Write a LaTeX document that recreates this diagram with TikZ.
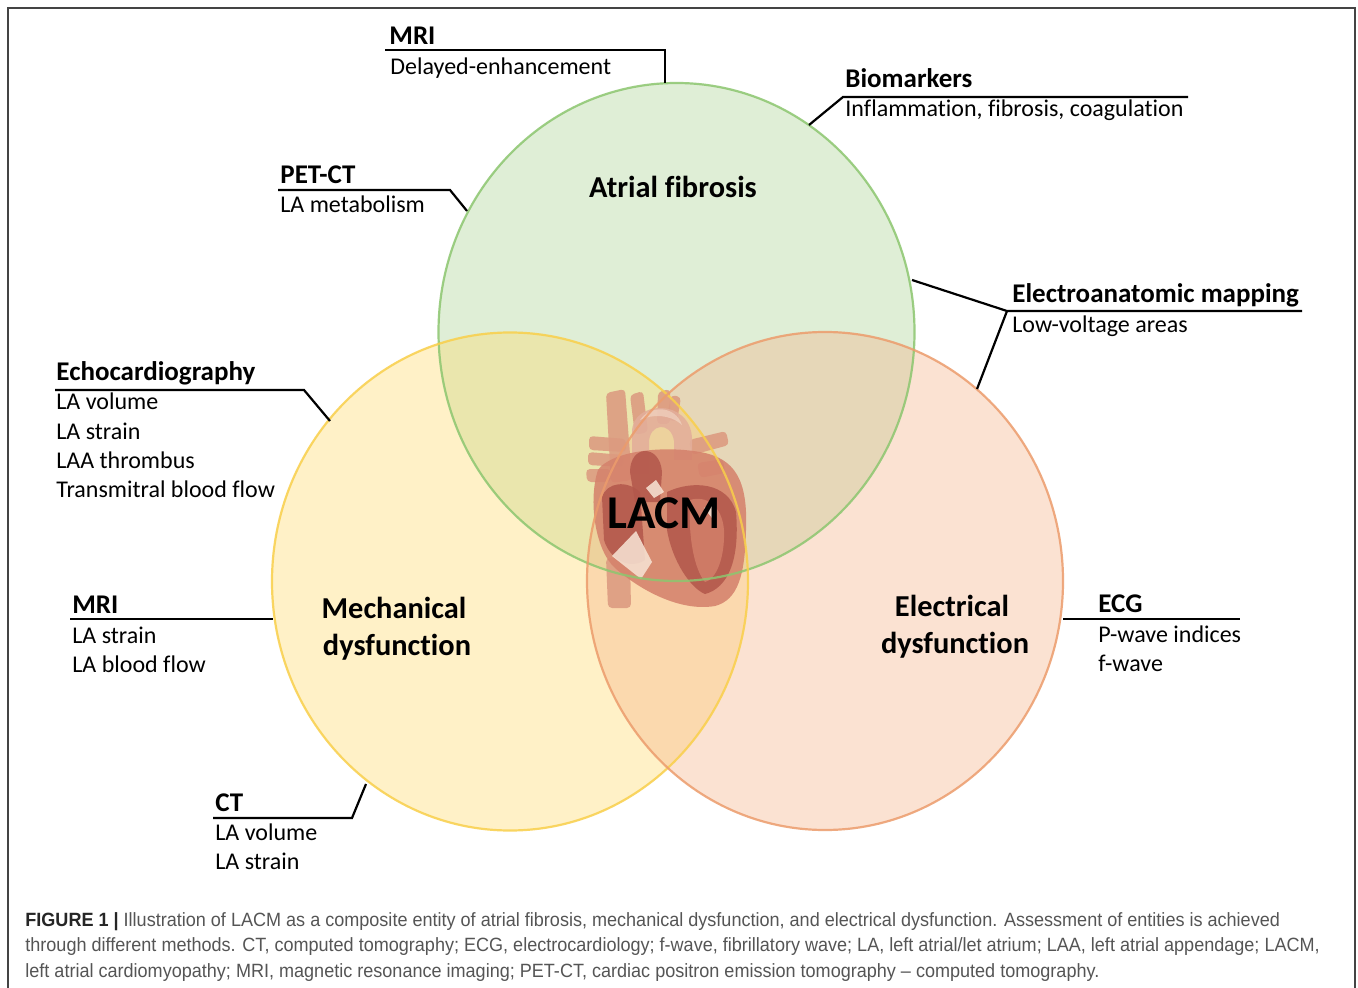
\documentclass[tikz,border=0pt]{standalone}
\usepackage{fontspec}
\setmainfont[Ligatures=NoCommon]{Carlito}
\newfontfamily\capfont[FakeStretch=0.94]{Liberation Sans}
\definecolor{gfill}{HTML}{A9D18E}
\definecolor{yfill}{HTML}{FFD966}
\definecolor{ofill}{HTML}{F4B183}
\definecolor{gedge}{HTML}{8CC66F}
\definecolor{yedge}{HTML}{F9CF4A}
\definecolor{oedge}{HTML}{EC9C6C}
\definecolor{hbody}{HTML}{D5826C}
\definecolor{hdark}{HTML}{B3584C}
\definecolor{hvessel}{HTML}{DC9A80}
\definecolor{hlight}{HTML}{F6E2D2}
\definecolor{capgray}{HTML}{555555}
\begin{document}
\begin{tikzpicture}[x=0.5pt,y=-0.5pt,
  hdr/.style={anchor=base west,inner sep=0,font=\fontsize{13.5}{16}\selectfont\bfseries},
  sub/.style={anchor=base west,inner sep=0,font=\fontsize{12}{14.5}\selectfont},
  big/.style={anchor=base,inner sep=0,font=\fontsize{15.2}{18}\selectfont\bfseries},
  lead/.style={line width=1.1pt,black},
  capline/.style={anchor=base west,inner sep=0,text=capgray,font=\capfont\fontsize{9.6}{12}\selectfont},
  vessel/.style={fill=hvessel,rounded corners=2pt},
]
\useasboundingbox (0,0) rectangle (1358,988);
\fill[white] (0,0) rectangle (1358,988);
% frame
\draw[capgray!80!black,line width=0.9pt] (8,988) -- (8,8) -- (1355,8) -- (1355,988);

% circle fills
\fill[gfill,fill opacity=0.36] (676.5,332) ellipse [x radius=119pt,y radius=124.5pt];
\fill[yfill,fill opacity=0.36] (510,581.5) ellipse [x radius=119pt,y radius=124.5pt];
\fill[ofill,fill opacity=0.36] (825,581) ellipse [x radius=119pt,y radius=124.5pt];

% heart
\begin{scope}[opacity=0.88]
\fill[vessel] (606,393) -- (625,389) -- (632,480) -- (611,483) -- cycle;
\fill[vessel] (630,395) -- (643,391) -- (648,432) -- (635,435) -- cycle;
\fill[vessel] (658,392) -- (670,389) -- (670,424) -- (657,424) -- cycle;
\fill[vessel] (671,395) -- (681,397) -- (677,422) -- (667,419) -- cycle;
\fill[vessel] (589,436) -- (626,439) -- (626,452) -- (589,450) -- cycle;
\fill[vessel] (588,452) -- (623,455) -- (623,467) -- (588,465) -- cycle;
\fill[vessel] (586,469) -- (611,469) -- (611,482) -- (587,482) -- cycle;
\fill[vessel] (689,440) -- (726,431) -- (729,445) -- (692,455) -- cycle;
\fill[vessel] (697,463) -- (723,459) -- (725,473) -- (700,478) -- cycle;
\fill[vessel] (606,558) -- (630,558) -- (631,608) -- (608,608) -- cycle;
\fill[hvessel!80!white] (632,474) -- (632,432) .. controls (632,400) and (690,398) .. (692,438) -- (692,460) -- (674,460) -- (674,441) .. controls (671,421) and (649,423) .. (649,443) -- (649,474) -- cycle;
\fill[hlight,opacity=0.5] (640,420) .. controls (650,405) and (675,405) .. (682,425) .. controls (670,414) and (652,414) .. (640,420) -- cycle;
\fill[hbody] (598,470) .. controls (610,452) and (660,445) .. (700,452) .. controls (735,458) and (748,480) .. (746,530) .. controls (745,575) and (738,600) .. (715,606) .. controls (680,612) and (640,590) .. (615,568) .. controls (595,550) and (588,500) .. (598,470) -- cycle;
\fill[hdark] (602,497) .. controls (607,482) and (627,480) .. (640,492) -- (645,560) .. controls (630,570) and (610,560) .. (604,540) -- cycle;
\fill[hdark] (630,472) .. controls (630,444) and (660,444) .. (662,472) -- (660,502) -- (635,502) -- cycle;
\fill[hdark] (667,492) .. controls (692,480) and (728,482) .. (736,512) .. controls (740,560) and (728,588) .. (705,594) .. controls (690,588) and (672,560) .. (667,530) -- cycle;
\fill[hbody!90!hdark] (690,500) .. controls (705,495) and (722,505) .. (724,530) .. controls (725,560) and (715,580) .. (705,582) .. controls (695,570) and (688,540) .. (690,500) -- cycle;
\fill[hlight] (612,556) -- (636,531) -- (652,562) -- (641,579) -- cycle;
\fill[hlight] (646,488) -- (656,480) -- (664,492) -- (654,498) -- cycle;
\fill[hlight] (704,508) -- (716,500) -- (712,518) -- cycle;
\end{scope}

% circle edges
\draw[gedge,line width=1.1pt,draw opacity=0.85] (676.5,332) ellipse [x radius=119pt,y radius=124.5pt];
\draw[yedge,line width=1.1pt,draw opacity=0.85] (510,581.5) ellipse [x radius=119pt,y radius=124.5pt];
\draw[oedge,line width=1.1pt,draw opacity=0.85] (825,581) ellipse [x radius=119pt,y radius=124.5pt];

% central labels
\node[big] (af) at (673,198) {Atrial fibrosis};
\node[big] (md1) at (394,618) {Mechanical};
\node[big] (md2) at (397,655) {dysfunction};
\node[big] (ed1) at (952,616) {Electrical};
\node[big] (ed2) at (955,653) {dysfunction};
\node[anchor=base,inner sep=0,font=\fontsize{23.5}{28}\selectfont\bfseries] (lacm) at (664,528) {LACM};

% MRI top
\node[hdr] (mriT) at (389,45) {MRI};
\node[sub] (mriTs) at (390,75) {Delayed-enhancement};
\coordinate (mA) at (385,50); \coordinate (mB) at (665,50); \coordinate (mC) at (665,83);
\draw[lead] (mA) -- (mB) -- (mC);

% Biomarkers
\node[hdr] (bio) at (845,88) {Biomarkers};
\node[sub] (bios) at (845,117) {Inflammation, fibrosis, coagulation};
\coordinate (bA) at (1188,97); \coordinate (bB) at (843,97); \coordinate (bC) at (809,125);
\draw[lead] (bA) -- (bB) -- (bC);

% PET-CT
\node[hdr] (pet) at (280,184) {PET-CT};
\node[sub] (pets) at (280,213) {LA metabolism};
\coordinate (pA) at (278,190); \coordinate (pB) at (450,190); \coordinate (pC) at (467,211);
\draw[lead] (pA) -- (pB) -- (pC);

% Electroanatomic mapping
\node[hdr] (eam) at (1012,303) {Electroanatomic mapping};
\node[sub] (eams) at (1012,333) {Low-voltage areas};
\coordinate (eA) at (1302,311); \coordinate (eB) at (1007,311);
\coordinate (eC) at (912,280); \coordinate (eD) at (977,389);
\draw[lead] (eA) -- (eB) -- (eC);
\draw[lead] (eB) -- (eD);

% Echocardiography
\node[hdr] (echo) at (56,381) {Echocardiography};
\node[sub] (echo1) at (56,410) {LA volume};
\node[sub] (echo2) at (56,439) {LA strain};
\node[sub] (echo3) at (56,468) {LAA thrombus};
\node[sub] (echo4) at (56,497) {Transmitral blood flow};
\coordinate (cA) at (55,390); \coordinate (cB) at (304,390); \coordinate (cC) at (330,421);
\draw[lead] (cA) -- (cB) -- (cC);

% MRI left
\node[hdr] (mriL) at (72,613) {MRI};
\node[sub] (mriL1) at (72,643) {LA strain};
\node[sub] (mriL2) at (72,672) {LA blood flow};
\coordinate (lA) at (70,619); \coordinate (lB) at (273,619);
\draw[lead] (lA) -- (lB);

% ECG
\node[hdr] (ecg) at (1098,612) {ECG};
\node[sub] (ecg1) at (1098,642) {P-wave indices};
\node[sub] (ecg2) at (1098,671) {f-wave};
\coordinate (gA) at (1063,619); \coordinate (gB) at (1240,619);
\draw[lead] (gA) -- (gB);

% CT
\node[hdr] (ct) at (215,811) {CT};
\node[sub] (ct1) at (215,840) {LA volume};
\node[sub] (ct2) at (215,869) {LA strain};
\coordinate (tA) at (213,818); \coordinate (tB) at (352,818); \coordinate (tC) at (366,784);
\draw[lead] (tA) -- (tB) -- (tC);

% caption
\node[capline] (cap1) at (25,926) {\textcolor{black!85}{\bfseries FIGURE 1 |} Illustration of LACM as a composite entity of atrial fibrosis, mechanical dysfunction, and electrical dysfunction. Assessment of entities is achieved};
\node[capline] (cap2) at (25,951) {through different methods. CT, computed tomography; ECG, electrocardiology; f-wave, fibrillatory wave; LA, left atrial/let atrium; LAA, left atrial appendage; LACM,};
\node[capline] (cap3) at (25,977) {left atrial cardiomyopathy; MRI, magnetic resonance imaging; PET-CT, cardiac positron emission tomography – computed tomography.};
\end{tikzpicture}
\end{document}
